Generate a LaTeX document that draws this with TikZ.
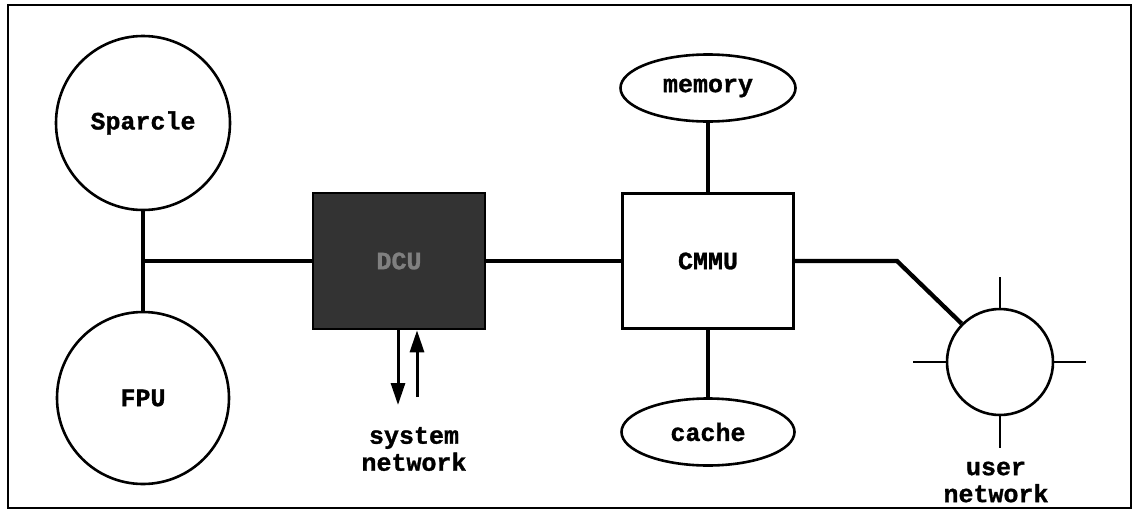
\documentclass[tikz,border=0pt]{standalone}
\usepackage{fontspec}
\setmainfont{Liberation Mono}[BoldFeatures={FakeBold=1.2}]
\usetikzlibrary{shapes.geometric,arrows.meta}
\tikzset{
  lbl/.style={font=\fontsize{25}{27}\selectfont\bfseries},
  circ/.style={draw, circle, line width=2.6pt, inner sep=0pt, lbl},
  oval/.style={draw, ellipse, line width=2.6pt, inner sep=0pt, lbl},
  blk/.style={draw, rectangle, line width=2.6pt, inner sep=0pt, lbl},
  conn/.style={line width=4.3pt},
  spoke/.style={line width=2.6pt},
  sysarrow/.style={line width=3pt, -{Triangle[length=22pt,width=14pt]}}
}
\begin{document}
\begin{tikzpicture}[x=1pt,y=-1pt]
\useasboundingbox (0,0) rectangle (1133,517);
\draw[line width=2pt] (8,5) rectangle (1131,508);
% left processors
\node[circ, minimum size=174pt] (sparcle) at (143,123) {Sparcle};
\node[circ, minimum size=172pt] (fpu) at (143,398) {FPU};
\coordinate (j) at (143,261);
% DCU
\node[blk, fill=black!80, text=black!50, minimum width=172pt, minimum height=136pt] (dcu) at (399,261) {DCU};
% CMMU
\node[blk, minimum width=171pt, minimum height=135pt] (cmmu) at (708,261) {CMMU};
\node[oval, minimum width=175pt, minimum height=67pt] (memory) at (708,88) {memory};
\node[oval, minimum width=173pt, minimum height=67pt] (cache) at (708,432) {cache};
% user network
\node[circ, minimum size=106pt] (user) at (1000,362) {};
\coordinate (bend) at (897,261);
% labels
\node[lbl, align=center] (syslbl) at (414,449) {system\\network};
\node[lbl, align=center] (userlbl) at (996,482) {user\\network};
% connectors
\draw[conn] (sparcle) -- (fpu);
\draw[conn] (j) -- (dcu);
\draw[conn] (dcu) -- (cmmu);
\draw[conn] (memory) -- (cmmu);
\draw[conn] (cmmu) -- (cache);
\draw[conn, line join=miter] (cmmu.east) -- (bend) -- (user.135);
% spokes
\coordinate (sn) at (1000,277);
\coordinate (ss) at (1000,448);
\coordinate (sw) at (913,362);
\coordinate (se) at (1086,362);
\draw[spoke] (user.north) -- (sn);
\draw[spoke] (user.south) -- (ss);
\draw[spoke] (user.west) -- (sw);
\draw[spoke] (user.east) -- (se);
% system network arrows
\coordinate (sysdown) at (398,405);
\coordinate (sysup) at (417,397);
\draw[sysarrow] (dcu.south -| sysdown) -- (sysdown);
\draw[sysarrow] (sysup) -- (dcu.south -| sysup);
\end{tikzpicture}
\end{document}
